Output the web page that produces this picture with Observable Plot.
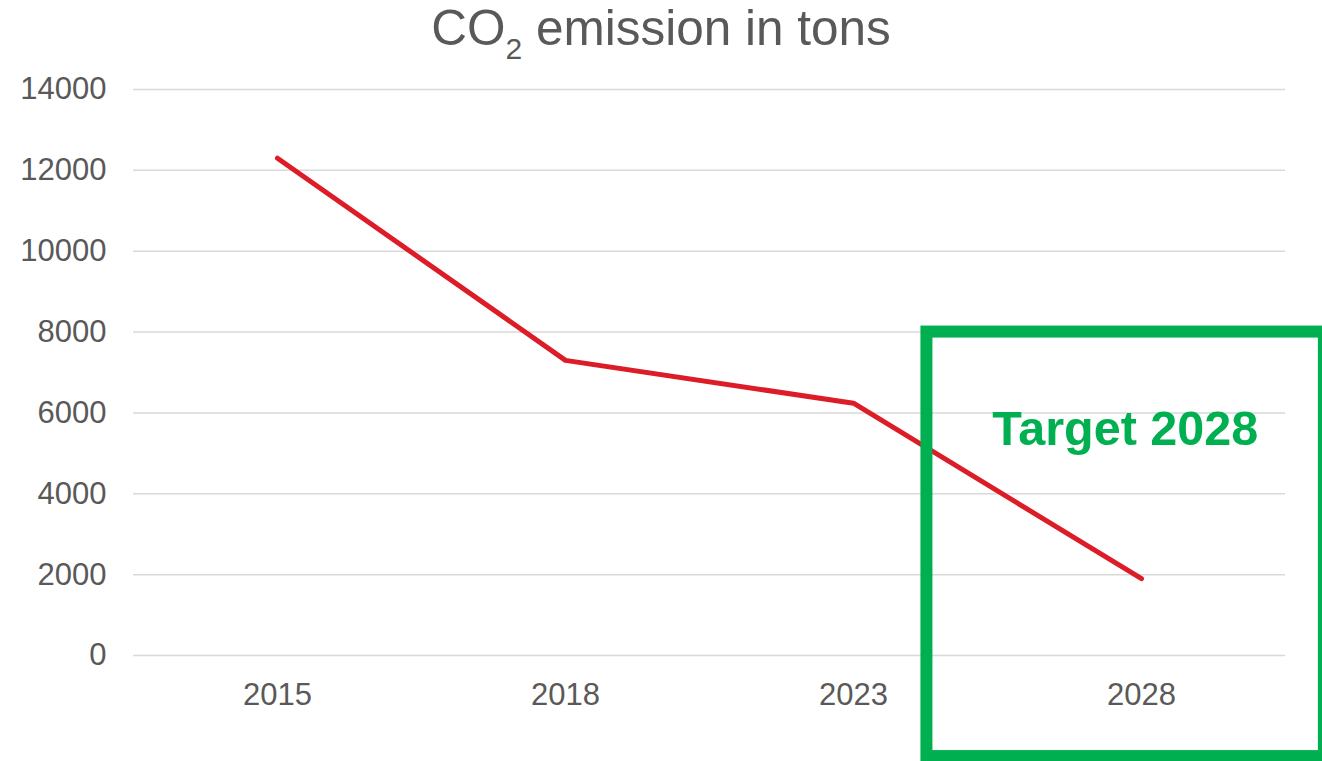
<!DOCTYPE html>
<html><head><meta charset="utf-8">
<script src="https://cdn.jsdelivr.net/npm/d3@7"></script>
<script src="https://cdn.jsdelivr.net/npm/@observablehq/plot@0.6"></script>
<style>
html,body{margin:0;padding:0;background:#fff;overflow:hidden;width:1322px;height:761px;}
#title{font-family:"Liberation Sans",Arial,sans-serif;font-size:49.5px;line-height:56px;height:62px;color:#595959;text-align:center;white-space:nowrap;}
#title .sub{font-size:30px;position:relative;top:14px;line-height:0;}
#chart svg{display:block;overflow:visible;}
</style></head><body>
<div id="title">CO<span class="sub">2</span> emission in tons</div>
<div id="chart"></div>
<script>
// Data
const years = ["2015", "2018", "2023", "2028"];
const emissions = [12300, 7300, 6240, 1900];
const yTicks = [0, 2000, 4000, 6000, 8000, 10000, 12000, 14000];
const targetLabel = "Target 2028";
const targetTopValue = 8000;      // top edge of target box (y value)
const targetBottomValue = -2500;  // bottom edge of target box (y value)
const targetLabelValue = 5200;    // label baseline (y value)

const data = years.map((year, i) => ({year, value: emissions[i]}));

const plot = Plot.plot({
  width: 1322,
  height: 699,
  marginTop: 27,
  marginBottom: 106,
  marginLeft: 133,
  marginRight: 37,
  style: {fontFamily: '"Liberation Sans", Arial, sans-serif', fontSize: "31px", color: "#595959", background: "transparent"},
  x: {type: "band", domain: years, padding: 0, label: null},
  y: {domain: [0, 14000], label: null},
  marks: [
    Plot.gridY(yTicks, {stroke: "#D9D9D9", strokeOpacity: 1, strokeWidth: 1.5}),
    Plot.axisY(yTicks, {tickSize: 0, tickPadding: 27, label: null, fill: "#595959", fontSize: 31, tickFormat: d => String(d)}),
    Plot.axisX({tickSize: 0, tickPadding: 27, label: null, fill: "#595959", fontSize: 31}),
    Plot.line(data, {x: "year", y: "value", stroke: "#DC1C26", strokeWidth: 5, strokeLinecap: "round", strokeLinejoin: "round"})
  ]
});
document.getElementById("chart").appendChild(plot);

// Target annotation box, positioned via the plot's scales
const xs = plot.scale("x");
const ys = plot.scale("y");
const bw = xs.bandwidth;
const x0 = xs.apply("2023") + bw * 0.755;
const x1 = xs.apply("2028") + bw * 1.135;
const y0 = ys.apply(targetTopValue);
const y1 = ys.apply(targetBottomValue);
const svg = d3.select(plot);
svg.append("rect")
  .attr("x", x0).attr("y", y0)
  .attr("width", x1 - x0).attr("height", y1 - y0)
  .attr("fill", "none").attr("stroke", "#00B050").attr("stroke-width", 12);
svg.append("text")
  .attr("x", (x0 + x1) / 2)
  .attr("y", ys.apply(targetLabelValue))
  .attr("text-anchor", "middle")
  .attr("font-family", '"Liberation Sans", Arial, sans-serif')
  .attr("font-weight", "bold")
  .attr("font-size", 48.5)
  .attr("fill", "#00B050")
  .text(targetLabel);
</script>
</body></html>
